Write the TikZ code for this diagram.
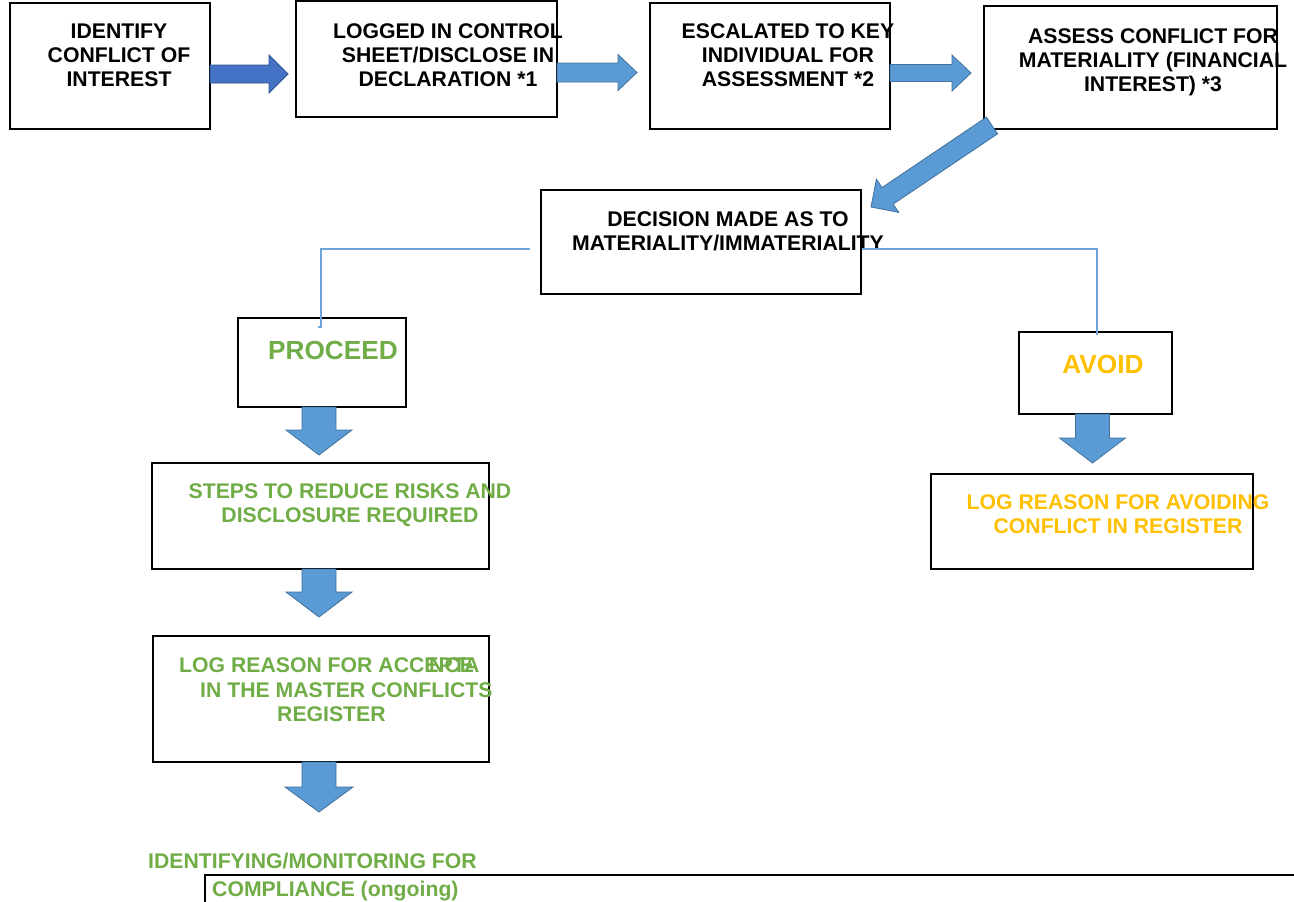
\documentclass[tikz,border=0pt]{standalone}
\usepackage{fontspec}
\setmainfont{Liberation Sans}
\usetikzlibrary{calc}
\definecolor{arrowfill}{HTML}{5B9BD5}
\definecolor{arrowedge}{HTML}{41719C}
\definecolor{darkfill}{HTML}{4472C4}
\definecolor{darkedge}{HTML}{2F528F}
\definecolor{txtgreen}{HTML}{70AD47}
\definecolor{txtgold}{HTML}{FFC000}
\definecolor{connblue}{HTML}{6FA3DA}
\newcommand\blockarrow[6]{%
  \coordinate (ba-h) at ($(#2)!#5!(#1)$);
  \draw[#6] ($(#1)!#3!90:(#2)$) -- ($(ba-h)!#3!90:(#2)$) -- ($(ba-h)!#4!90:(#2)$) -- (#2)
    -- ($(ba-h)!#4!-90:(#2)$) -- ($(ba-h)!#3!-90:(#2)$) -- ($(#1)!#3!-90:(#2)$) -- cycle;
}
\tikzset{
  box/.style={draw=black, line width=2bp, rectangle, inner sep=0, fill=none},
  txt/.style={font=\fontsize{21.3}{24}\selectfont\bfseries, align=center, inner sep=0},
  bigtxt/.style={font=\fontsize{26.3}{30}\selectfont\bfseries, inner sep=0},
  lightarrow/.style={fill=arrowfill, draw=arrowedge, line width=0.8bp, line join=miter},
  darkarrow/.style={fill=darkfill, draw=darkedge, line width=0.8bp, line join=miter},
  conn/.style={draw=connblue, line width=1.1bp},
}
\begin{document}
\begin{tikzpicture}[x=1bp,y=-1bp]
\useasboundingbox (0,0) rectangle (1294,902);
\fill[white] (0,0) rectangle (1294,902);
% boxes
\node[box, minimum width=200, minimum height=126] (b1) at (110,66) {};
\node[box, minimum width=261, minimum height=116] (b2) at (426.5,59) {};
\node[box, minimum width=240, minimum height=126] (b3) at (770,66) {};
\node[box, minimum width=295, minimum height=123] (b4) at (1130.5,67.5) {};
\node[box, minimum width=322, minimum height=104] (b5) at (701,242) {};
\node[box, minimum width=168, minimum height=89] (b6) at (322,362.5) {};
\node[box, minimum width=153, minimum height=82] (b7) at (1095.5,373) {};
\node[box, minimum width=339, minimum height=106] (b8) at (320.5,516) {};
\node[box, minimum width=338, minimum height=126] (b9) at (321,699) {};
\node[box, minimum width=324, minimum height=95] (b10) at (1092,521.5) {};
% texts
\node[txt] (t1) at (119,55) {IDENTIFY\\CONFLICT OF\\INTEREST};
\node[txt] (t2) at (448,55) {LOGGED IN CONTROL\\SHEET/DISCLOSE IN\\DECLARATION *1};
\node[txt] (t3) at (788,55) {ESCALATED TO KEY\\INDIVIDUAL FOR\\ASSESSMENT *2};
\node[txt] (t4) at (1153,62) {ASSESS CONFLICT FOR\\MATERIALITY (FINANCIAL\\INTEREST) *3};
\node[txt] (t5) at (728,231.5) {DECISION MADE AS TO\\MATERIALITY/IMMATERIALITY};
\node[bigtxt, text=txtgreen] (t6) at (333,350) {PROCEED};
\node[bigtxt, text=txtgold] (t7) at (1103,364) {AVOID};
\node[txt, text=txtgreen] (t8) at (350,505) {STEPS TO REDUCE RISKS AND\\DISCLOSURE REQUIRED};
\node[txt, text=txtgreen, anchor=base west] (t9a) at (179,672) {LOG REASON FOR ACCEPTA};
\node[txt, text=txtgreen, anchor=base west] (t9b) at (429,672) {NCE};
\node[txt, text=txtgreen, anchor=base west] (t9c) at (200,697) {IN THE MASTER CONFLICTS};
\node[txt, text=txtgreen, anchor=base west] (t9d) at (277,721) {REGISTER};
\node[txt, text=txtgold] (t10) at (1118,514) {LOG REASON FOR AVOIDING\\CONFLICT IN REGISTER};
\node[txt, text=txtgreen, anchor=base west] (t11a) at (148,868) {IDENTIFYING/MONITORING FOR};
\node[txt, text=txtgreen, anchor=base west] (t11b) at (212,896) {COMPLIANCE (ongoing)};
% arrow end points
\coordinate (a1s) at (210,74);   \coordinate (a1e) at (288,74);
\coordinate (a2s) at (557,72.5); \coordinate (a2e) at (637,72.5);
\coordinate (a3s) at (890,73);   \coordinate (a3e) at (971,73);
\coordinate (a4s) at (992,125.5);\coordinate (a4e) at (871,207);
\coordinate (d1s) at (319,407);  \coordinate (d1e) at (319,455);
\coordinate (d2s) at (319,569);  \coordinate (d2e) at (319,617);
\coordinate (d3s) at (319,762);  \coordinate (d3e) at (319,812);
\coordinate (d4s) at (1092.5,414); \coordinate (d4e) at (1092.5,463);
\blockarrow{a1s}{a1e}{9bp}{19bp}{19bp}{darkarrow}
\blockarrow{a2s}{a2e}{9.5bp}{18bp}{19bp}{lightarrow}
\blockarrow{a3s}{a3e}{8.5bp}{18bp}{19bp}{lightarrow}
\blockarrow{a4s}{a4e}{10bp}{20bp}{20bp}{lightarrow}
\blockarrow{d1s}{d1e}{17bp}{33bp}{25bp}{lightarrow}
\blockarrow{d2s}{d2e}{17bp}{33bp}{25bp}{lightarrow}
\blockarrow{d3s}{d3e}{17bp}{34bp}{25bp}{lightarrow}
\blockarrow{d4s}{d4e}{17bp}{33bp}{25bp}{lightarrow}
% thin connectors
\coordinate (c1s) at (530,249); \coordinate (c1e) at (321,327);
\coordinate (c2s) at (862,249); \coordinate (c2e) at (1097,335);
\draw[conn] (c1s) -| (c1e) -- ++(-3,0);
\draw[conn] (c2s) -| (c2e);
% bottom line
\coordinate (l0) at (205,902); \coordinate (l1) at (205,875); \coordinate (l2) at (1294,875);
\draw[black, line width=2bp] (l0) -- (l1) -- (l2);
\end{tikzpicture}
\end{document}
